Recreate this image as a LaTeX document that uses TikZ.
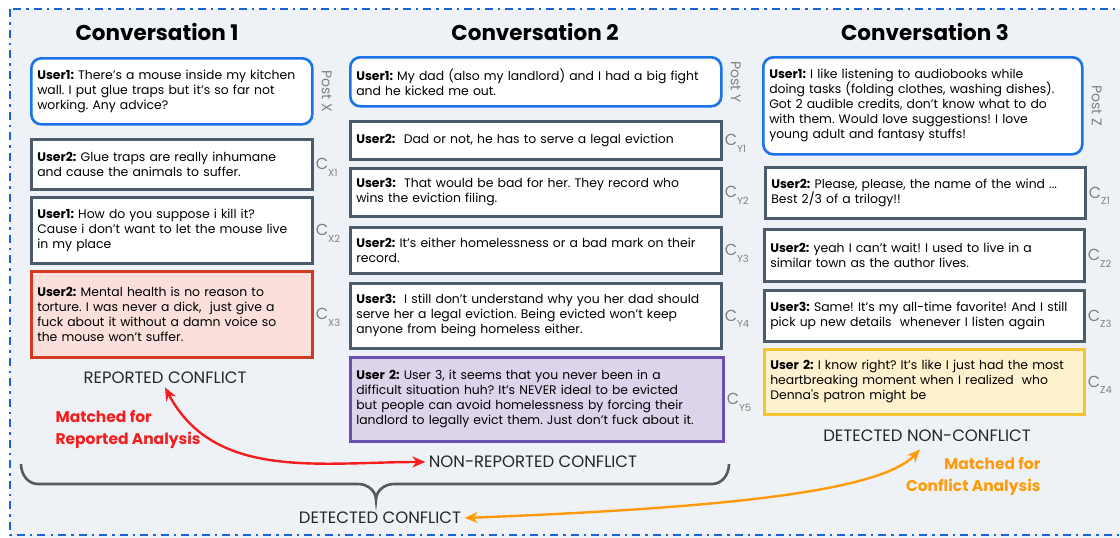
\documentclass[tikz,border=0pt]{standalone}
\usepackage{fontspec}
\setmainfont{Poppins}
\frenchspacing
\usetikzlibrary{positioning,arrows.meta}

\definecolor{postblue}{HTML}{1A73E8}
\definecolor{slate}{HTML}{4B5B6B}
\definecolor{confred}{HTML}{D13A20}
\definecolor{confredbg}{HTML}{FADFDA}
\definecolor{purp}{HTML}{6B4FB3}
\definecolor{purpbg}{HTML}{DCD4EA}
\definecolor{yel}{HTML}{F5C232}
\definecolor{yelbg}{HTML}{FEF1CD}
\definecolor{panel}{HTML}{EEF2F6}
\definecolor{framebl}{HTML}{1A63D6}
\definecolor{matchred}{HTML}{F41E1E}
\definecolor{matchorange}{HTML}{FF9A0A}
\definecolor{bracegray}{HTML}{58595B}

\begin{document}
\begin{tikzpicture}[x=1pt, y=-1pt,
    msg/.style={draw=slate, line width=2.6pt, fill=white, anchor=north west,
        align=left, inner sep=6pt, font=\fontsize{12.4}{15}\selectfont},
    post/.style={msg, draw=postblue, rounded corners=10pt},
    redmsg/.style={msg, draw=confred, fill=confredbg},
    purpmsg/.style={msg, draw=purp, fill=purpbg},
    yelmsg/.style={msg, draw=yel, fill=yelbg},
    title/.style={font=\fontsize{21.5}{24}\selectfont\bfseries},
    clab/.style={text=gray, font=\fontsize{16}{16}\selectfont, inner sep=1pt},
    postlab/.style={text=gray, font=\fontsize{14}{14}\selectfont, rotate=-90, inner sep=0pt},
    group/.style={text=black!85, font=\fontsize{16.5}{18}\selectfont},
    match/.style={font=\fontsize{15.5}{22}\selectfont\bfseries},
    matchline/.style={line width=2.4pt, {Stealth[length=13pt,width=11pt]}-{Stealth[length=13pt,width=11pt]}}]

    \newcommand{\msgbox}[7]{
        \pgfmathsetmacro{\tw}{#5-12}
        \node[#2, minimum width=#5pt, minimum height=#6pt, text width=\tw pt] (#1) at (#3,#4) {#7};
    }

    \useasboundingbox (0,0) rectangle (1120,538);

    % Panel and frame
    \fill[panel] (10,9) rectangle (1150,545);
    \draw[framebl, line width=2.6pt, dash pattern=on 8pt off 5pt on 2.5pt off 5pt] (10,9) rectangle (1150,535);

    % Titles
    \node[title] (t1) at (157,32) {Conversation 1};
    \node[title] (t2) at (535,32) {Conversation 2};
    \node[title] (t3) at (925,32) {Conversation 3};

    % Conversation 1
    \msgbox{px}{post}{30}{57}{281}{66}{\textbf{User1:} There’s a mouse inside my kitchen\\ wall. I put glue traps but it’s so far not\\ working. Any advice?}
    \msgbox{cx1}{msg}{30}{138}{281}{50}{\textbf{User2:} Glue traps are really inhumane\\ and cause the animals to suffer.}
    \msgbox{cx2}{msg}{30}{196}{281}{66}{\textbf{User1:} How do you suppose i kill it?\\ Cause i don’t want to let the mouse live\\ in my place}
    \msgbox{cx3}{redmsg}{30}{270}{281}{86}{\textbf{User2:} Mental health is no reason to\\ torture. I was never a dick,\ \ just give a\\ fuck about it without a damn voice so\\ the mouse won’t suffer.}

    % Conversation 2
    \msgbox{py}{post}{349}{56}{371}{49}{\textbf{User1:} My dad (also my landlord) and I had a big fight\\ and he kicked me out.}
    \msgbox{cy1}{msg}{349}{120}{371}{38}{\textbf{User2:}\ \ Dad or not, he has to serve a legal eviction}
    \msgbox{cy2}{msg}{349}{167}{371}{48}{\textbf{User3:}\ \ That would be bad for her. They record who\\ wins the eviction filing.}
    \msgbox{cy3}{msg}{349}{226}{371}{46}{\textbf{User2:} It’s either homelessness or a bad mark on their\\ record.}
    \msgbox{cy4}{msg}{349}{282}{371}{65}{\textbf{User3:}\ \ I still don’t understand why you her dad should\\ serve her a legal eviction. Being evicted won’t keep\\ anyone from being homeless either.}
    \msgbox{cy5}{purpmsg}{349}{356}{373}{84}{\textbf{User 2:} User 3, it seems that you never been in a\\ difficult situation huh? It’s NEVER ideal to be evicted\\ but people can avoid homelessness by forcing their\\ landlord to legally evict them. Just don’t fuck about it.}

    % Conversation 3
    \msgbox{pz}{post}{762}{56}{319}{97}{\textbf{User1:} I like listening to audiobooks while\\ doing tasks (folding clothes, washing dishes).\\ Got 2 audible credits, don’t know what to do\\ with them. Would love suggestions! I love\\ young adult and fantasy stuffs!}
    \msgbox{cz1}{msg}{764}{166}{320}{51}{\textbf{User2:} Please, please, the name of the wind ...\\ Best 2/3 of a trilogy!!}
    \msgbox{cz2}{msg}{763}{228}{320}{52}{\textbf{User2:} yeah I can’t wait! I used to live in a\\ similar town as the author lives.}
    \msgbox{cz3}{msg}{763}{289}{320}{51}{\textbf{User3:} Same! It’s my all-time favorite! And I still\\ pick up new details\ \ whenever I listen again}
    \msgbox{cz4}{yelmsg}{763}{348}{320}{65}{\textbf{User 2:} I know right? It’s like I just had the most\\ heartbreaking moment when I realized\ \ who\\ Denna\textquotesingle s patron might be}

    % Post labels
    \foreach \p/\s in {px/X, py/Y, pz/Z}
        \node[postlab] at ([xshift=13pt]\p.east) {Post \s};

    % Comment labels
    \foreach \b/\s in {cx1/X1, cx2/X2, cx3/X3, cy1/Y1, cy2/Y2, cy3/Y3, cy4/Y4, cy5/Y5, cz1/Z1, cz2/Z2, cz3/Z3, cz4/Z4}
        \node[clab, right=1pt of \b.east, yshift=-3pt] {C\raisebox{-0.4em}{\fontsize{10}{10}\selectfont \s}};

    % Groups
    \node[group] (rep) at (165,378) {REPORTED CONFLICT};
    \node[group] (nonrep) at (533,462) {NON-REPORTED CONFLICT};
    \node[group] (detnc) at (927,436) {DETECTED NON-CONFLICT};
    \node[group] (detc) at (380,518) {DETECTED CONFLICT};

    % Brace
    \draw[bracegray, line width=2.6pt] (21,464) to[out=-90,in=180] (38,484) -- (358,484)
        to[out=0,in=90] (376,500) to[out=90,in=180] (394,484) -- (712,484) to[out=0,in=-90] (729,464);

    % Matches
    \node[match, text=matchred, align=left, anchor=west] (mr) at (52,429) {Matched for\\Reported Analysis};
    \node[match, text=matchorange, align=right, anchor=east] (mo) at (1044,476) {Matched for\\Conflict Analysis};
    \draw[matchline, matchred] (rep.south) to[out=-62,in=180] (nonrep.west);
    \draw[matchline, matchorange] (detc.east) .. controls (720,508) and (880,492) .. ([xshift=-7pt,yshift=-4pt]detnc.south);

\end{tikzpicture}
\end{document}
